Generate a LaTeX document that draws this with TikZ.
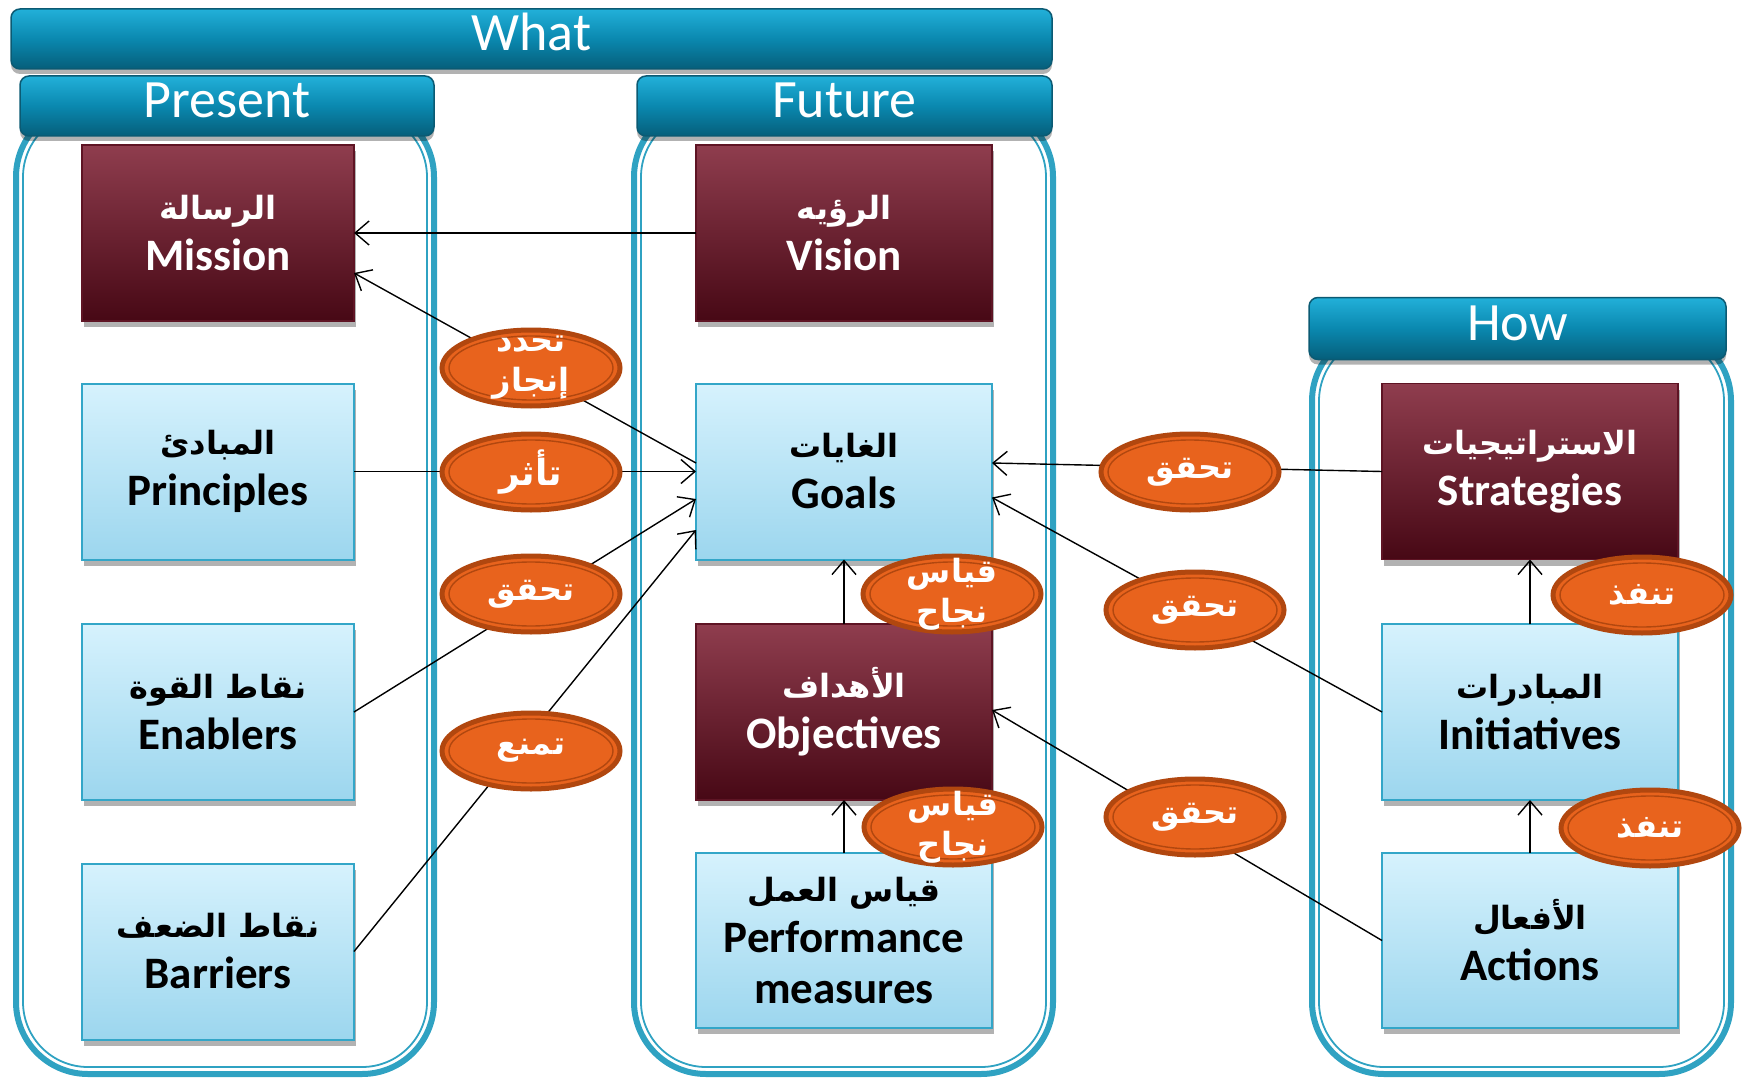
\documentclass[tikz,border=0pt]{standalone}
\usepackage{fontspec}
\setmainfont{Carlito}
\newfontfamily\arfont[Script=Arabic]{DejaVu Sans}
\TeXXeTstate=1
\usetikzlibrary{shapes.geometric,arrows.meta,shadows}
\newcommand\rl[1]{\beginR#1\endR}
\newcommand\artxt[1]{{\arfont\bfseries\fontsize{32}{34}\selectfont\beginR#1\endR}}
\definecolor{teal1}{HTML}{2FA2C2}
\definecolor{hdtop}{HTML}{22B0D9}
\definecolor{hdmid}{HTML}{0A88AF}
\definecolor{hdbot}{HTML}{065E7A}
\definecolor{hdline}{HTML}{0B5A73}
\definecolor{redtop}{HTML}{8F3D4E}
\definecolor{redbot}{HTML}{470815}
\definecolor{redline}{HTML}{5E1424}
\definecolor{bluetop}{HTML}{D6F2FD}
\definecolor{bluebot}{HTML}{9CD6EE}
\definecolor{blueline}{HTML}{33A6C8}
\definecolor{orfill}{HTML}{E8631D}
\definecolor{orline}{HTML}{B1470F}
\tikzset{
  every node/.style={inner sep=0pt, outer sep=0pt},
  contout/.style={draw=teal1, line width=6pt, rounded corners=72pt},
  continn/.style={draw=teal1, line width=1.8pt, rounded corners=65pt},
  hdr/.style={rectangle, rounded corners=9pt, top color=hdtop, bottom color=hdbot, middle color=hdmid,
    draw=hdline, line width=1.5pt, text=white, font=\fontsize{54}{60}\selectfont,
    text height=30pt, text depth=6pt,
    drop shadow={shadow xshift=0pt, shadow yshift=-5pt, opacity=0.3, fill=black}},
  boxbase/.style={rectangle, minimum height=176pt, align=center,
    font=\bfseries\fontsize{45}{51}\selectfont,
    drop shadow={shadow xshift=2pt, shadow yshift=-6pt, opacity=0.3, fill=black}},
  redbox/.style={boxbase, top color=redtop, bottom color=redbot, draw=redline, line width=1.2pt, text=white},
  bluebox/.style={boxbase, top color=bluetop, bottom color=bluebot, draw=blueline, line width=2pt, text=black},
  arr/.style={draw=black, line width=1.4pt, -{Straight Barb[length=14pt,width=24pt]}},
  ell/.style={ellipse, minimum width=178pt, minimum height=76pt, fill=orfill, draw=orline, line width=5pt,
    path picture={\draw[orline, line width=1.4pt] (path picture bounding box.center) ellipse [x radius=82pt, y radius=32pt];}},
  etxt/.style={text=white, align=center, font=\arfont\bfseries\fontsize{32}{40}\selectfont}
}
\begin{document}
\begin{tikzpicture}[x=1pt,y=-1pt]
\useasboundingbox (0,0) rectangle (1746,1078);
% containers
\draw[contout] (16,105) rectangle (434,1074);
\draw[continn] (23,112) rectangle (427,1067);
\draw[contout] (634,105) rectangle (1053,1074);
\draw[continn] (641,112) rectangle (1046,1067);
\draw[contout] (1312,329) rectangle (1731,1074);
\draw[continn] (1319,336) rectangle (1724,1067);
% headers
\node[hdr, minimum width=1041pt, minimum height=60pt] (what) at (531.5,39) {What};
\node[hdr, minimum width=414pt, minimum height=60pt] (present) at (227,106) {Present};
\node[hdr, minimum width=415pt, minimum height=60pt] (future) at (844.5,106) {Future};
\node[hdr, minimum width=417pt, minimum height=62pt] (how) at (1517.5,328.5) {How};
% boxes
\node[redbox, minimum width=272pt] (mission) at (218,233) {\artxt{الرسالة}\\Mission};
\node[bluebox, minimum width=272pt] (principles) at (218,471.5) {\artxt{المبادئ}\\Principles};
\node[bluebox, minimum width=272pt] (enablers) at (218,712) {\artxt{نقاط القوة}\\Enablers};
\node[bluebox, minimum width=272pt] (barriers) at (218,951.5) {\artxt{نقاط الضعف}\\Barriers};
\node[redbox, minimum width=296pt] (vision) at (844,233) {\artxt{الرؤيه}\\Vision};
\node[bluebox, minimum width=296pt] (goals) at (844,471.5) {\artxt{الغايات}\\Goals};
\node[redbox, minimum width=296pt] (objectives) at (844,712) {\artxt{الأهداف}\\Objectives};
\node[bluebox, minimum width=296pt, minimum height=175pt] (performance) at (844,940.5) {\artxt{قياس العمل}\\Performance\\measures};
\node[redbox, minimum width=296pt] (strategies) at (1530,471.5) {\artxt{الاستراتيجيات}\\Strategies};
\node[bluebox, minimum width=296pt] (initiatives) at (1530,712) {\artxt{المبادرات}\\Initiatives};
\node[bluebox, minimum width=296pt, minimum height=175pt] (actions) at (1530,940.5) {\artxt{الأفعال}\\Actions};
% connectors
\draw[arr] (vision.west) -- (mission.east);
\draw[arr] ([yshift=8.5pt]goals.west) -- ([yshift=-40pt]mission.east);
\draw[arr] (principles.east) -- (goals.west);
\draw[arr] (enablers.east) -- ([yshift=-27.5pt]goals.west);
\draw[arr] (barriers.east) -- ([yshift=-58.5pt]goals.west);
\draw[arr] (strategies.west) -- ([yshift=8.5pt]goals.east);
\draw[arr] (initiatives.west) -- ([yshift=-26pt]goals.east);
\draw[arr] (actions.west) -- ([yshift=2pt]objectives.east);
\draw[arr] (objectives.north) -- (goals.south);
\draw[arr] (performance.north) -- (objectives.south);
\draw[arr] (initiatives.north) -- (strategies.south);
\draw[arr] (actions.north) -- (initiatives.south);
% ellipses
\node[ell] (e1) at (531,368) {};
\node[ell] (e2) at (531,472) {};
\node[ell] (e3) at (531,594) {};
\node[ell] (e4) at (531,751) {};
\node[ell] (e5) at (1190,472) {};
\node[ell] (e6) at (1195,610) {};
\node[ell] (e7) at (1195,817) {};
\node[ell] (e8) at (952,594) {};
\node[ell] (e9) at (953,827) {};
\node[ell] (e10) at (1642,595) {};
\node[ell] (e11) at (1650,828) {};
\node[etxt] (e1t) at (e1) {\rl{تحدد}\\\rl{إنجاز}};
\node[etxt, font=\arfont\bfseries\fontsize{36}{40}\selectfont] (e2t) at (e2) {\rl{تأثر}};
\node[etxt] (e3t) at (e3) {\rl{تحقق}};
\node[etxt] (e4t) at (e4) {\rl{تمنع}};
\node[etxt] (e5t) at (e5) {\rl{تحقق}};
\node[etxt] (e6t) at (e6) {\rl{تحقق}};
\node[etxt] (e7t) at (e7) {\rl{تحقق}};
\node[etxt] (e8t) at (e8) {\rl{قياس}\\\rl{نجاح}};
\node[etxt] (e9t) at (e9) {\rl{قياس}\\\rl{نجاح}};
\node[etxt] (e10t) at (e10) {\rl{تنفذ}};
\node[etxt] (e11t) at (e11) {\rl{تنفذ}};
\end{tikzpicture}
\end{document}
